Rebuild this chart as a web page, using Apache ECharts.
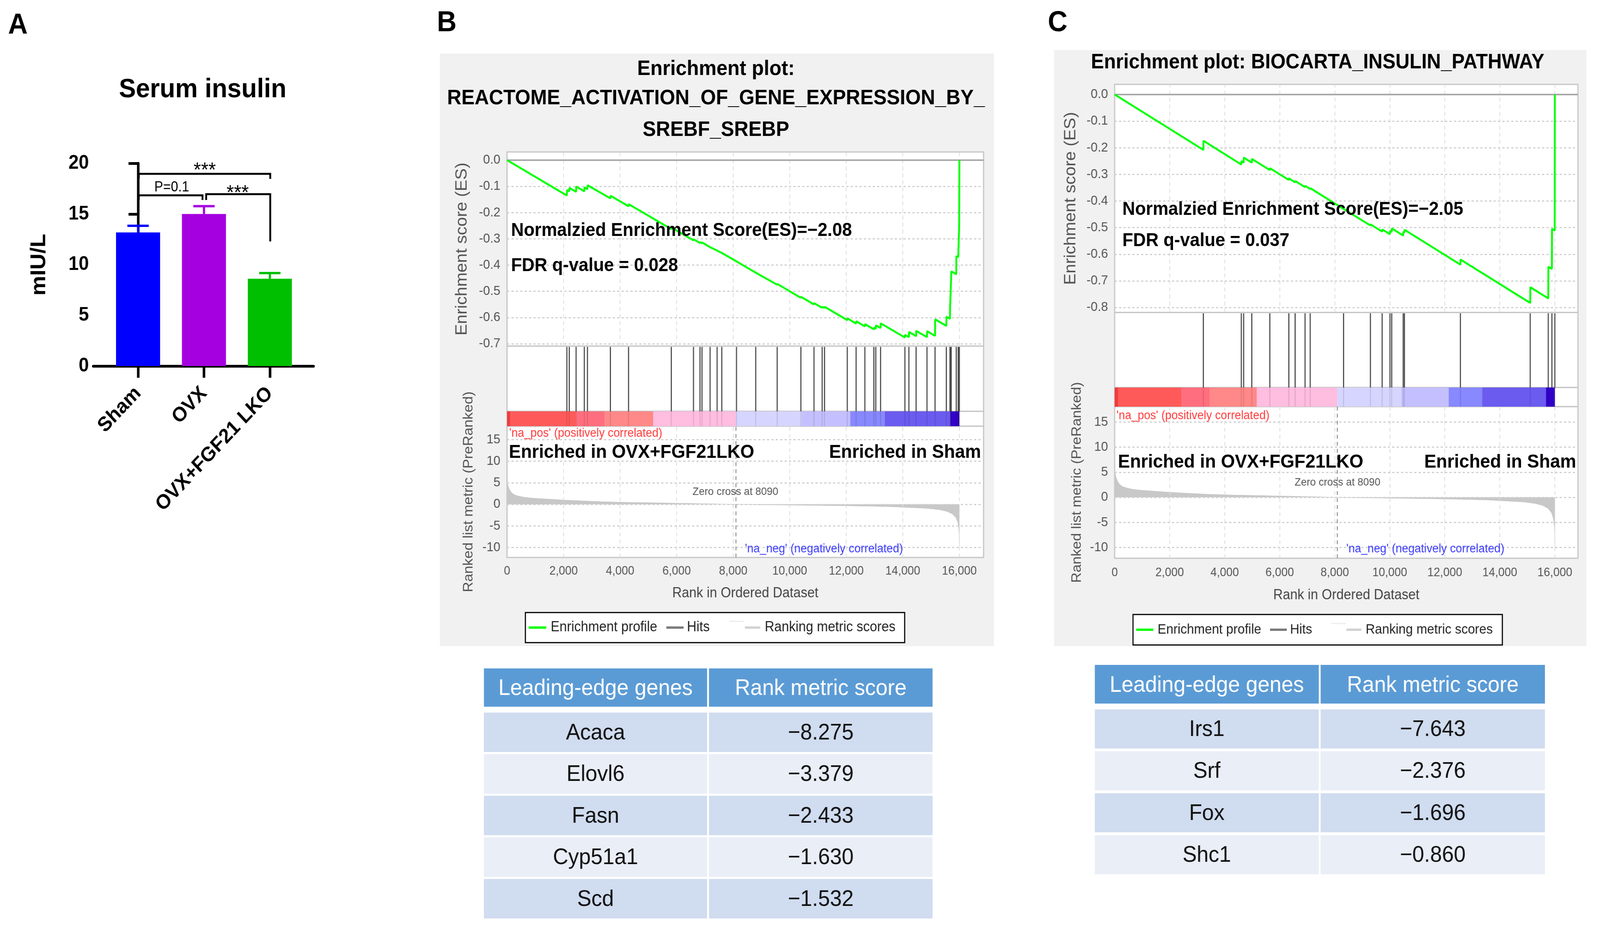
<!DOCTYPE html>
<html>
<head>
<meta charset="utf-8">
<script src="https://cdn.jsdelivr.net/npm/echarts@6/dist/echarts.min.js"></script>
<style>
html,body{margin:0;padding:0;background:#ffffff;overflow:hidden;}
#c{width:4358px;height:2396px;transform-origin:0 0;}
</style>
</head>
<body>
<div id="c"></div>
<script>
// ---------------- DATA ----------------
// Panel A: serum insulin (mIU/L)
const GROUPS = ['Sham', 'OVX', 'OVX+FGF21 LKO'];
const INSULIN_MEAN = [13.18, 15.0, 8.61];
const INSULIN_ERR_TOP = [13.83, 15.77, 9.17];
const INSULIN_TICKS = [0, 5, 10, 15, 20];
const SIG_PAIRS = [[0, 2], [0, 1], [1, 2]];
const SIG_LABELS = ['***', 'P=0.1', '***'];
const SIG_HEIGHT = [18.96, 16.84, 16.96];
const SIG_ENDS = [[18.46, 18.46], [16.38, 16.38], [16.38, 12.29]];

// GSEA common
const RANK_TICKS = [0, 2000, 4000, 6000, 8000, 10000, 12000, 14000, 16000];
const METRIC_TICKS = [15, 10, 5, 0, -5, -10];
const ES_TICKS_B = [0, -0.1, -0.2, -0.3, -0.4, -0.5, -0.6, -0.7];
const ES_TICKS_C = [0, -0.1, -0.2, -0.3, -0.4, -0.5, -0.6, -0.7, -0.8];
const ZERO_CROSS = 8090;
const COLORBAR_EDGES = [0, 120, 2430, 3460, 5170, 8090, 10420, 12140, 13360, 15680, 16000];
const RANKED_METRIC = [
  [0, 5.3], [20, 4.8], [50, 4.0], [90, 3.4], [150, 2.8], [220, 2.4], [300, 2.1], [450, 1.85],
  [600, 1.65], [800, 1.5], [1100, 1.35], [1500, 1.2], [2000, 1.0], [2600, 0.82], [3400, 0.6],
  [4300, 0.45], [5200, 0.36], [6200, 0.24], [7200, 0.12], [8090, 0], [9000, -0.1], [10000, -0.17],
  [11000, -0.25], [12000, -0.33], [13000, -0.45], [13600, -0.55], [14300, -0.75], [14900, -0.95],
  [15300, -1.25], [15550, -1.6], [15750, -2.2], [15880, -3.1], [15950, -4.3], [15985, -6.0],
  [16000, -8.3], [16005, -10.5]
];

// Panel B: REACTOME_ACTIVATION_OF_GENE_EXPRESSION_BY_SREBF_SREBP
const ES_B = [
  [0, 0], [2117, -0.135], [2121, -0.114], [2201, -0.119], [2205, -0.106], [2443, -0.121], [2447, -0.101],
  [2734, -0.119], [2738, -0.104], [2844, -0.111], [2848, -0.096], [3657, -0.146], [3661, -0.136],
  [4299, -0.176], [4303, -0.168], [5811, -0.263], [5815, -0.257], [6596, -0.306], [6600, -0.302],
  [6826, -0.316], [6830, -0.313], [6897, -0.317], [6901, -0.314], [7183, -0.332], [7187, -0.330],
  [7431, -0.345], [7435, -0.344], [7596, -0.354], [7600, -0.353], [8117, -0.386], [8121, -0.386],
  [8797, -0.429], [8801, -0.427], [9556, -0.475], [9560, -0.472], [10394, -0.525], [10398, -0.521],
  [10858, -0.550], [10862, -0.545], [11147, -0.563], [11151, -0.559], [11231, -0.564], [11235, -0.559],
  [12036, -0.610], [12040, -0.603], [12347, -0.623], [12351, -0.614], [12658, -0.634], [12662, -0.625],
  [12975, -0.645], [12979, -0.639], [13044, -0.643], [13048, -0.630], [13213, -0.640], [13217, -0.622],
  [14074, -0.676], [14078, -0.666], [14216, -0.675], [14220, -0.655], [14470, -0.671], [14474, -0.651],
  [14856, -0.675], [14860, -0.652], [15140, -0.670], [15144, -0.607], [15540, -0.632], [15544, -0.597],
  [15668, -0.605], [15672, -0.560], [15690, -0.561], [15694, -0.500], [15712, -0.501], [15716, -0.424],
  [15890, -0.435], [15894, -0.366], [15960, -0.370], [15964, -0.358], [15975, -0.359], [15979, -0.300],
  [15990, -0.301], [15994, -0.253], [15998, -0.253], [16002, 0]
];
const HITS_B = [2117, 2201, 2443, 2734, 2844, 3657, 4299, 5811, 6596, 6826, 6897, 7183, 7431, 7596, 8117,
  8797, 9556, 10394, 10858, 11147, 11231, 12036, 12347, 12658, 12975, 13044, 13213, 14074, 14216, 14470,
  14856, 15140, 15540, 15668, 15690, 15712, 15890, 15960, 15975, 15990, 16000];
const NES_B = -2.08, FDR_B = 0.028;
const GENES_B = ['Acaca', 'Elovl6', 'Fasn', 'Cyp51a1', 'Scd'];
const SCORES_B = [-8.275, -3.379, -2.433, -1.630, -1.532];

// Panel C: BIOCARTA_INSULIN_PATHWAY
const ES_C = [
  [0, 0], [3224, -0.208], [3228, -0.174], [4603, -0.263], [4607, -0.250], [4689, -0.256], [4693, -0.237],
  [4985, -0.256], [4989, -0.242], [5641, -0.284], [5645, -0.277], [6331, -0.321], [6335, -0.315],
  [6560, -0.330], [6564, -0.325], [6921, -0.348], [6925, -0.343], [7108, -0.355], [7112, -0.352],
  [8321, -0.430], [8325, -0.429], [9296, -0.492], [9300, -0.488], [9723, -0.515], [9727, -0.507],
  [10007, -0.525], [10011, -0.512], [10072, -0.516], [10076, -0.503], [10488, -0.530], [10492, -0.516],
  [10532, -0.519], [10536, -0.508], [12567, -0.639], [12571, -0.620], [15105, -0.783], [15109, -0.724],
  [15761, -0.766], [15765, -0.647], [15893, -0.655], [15897, -0.505], [15996, -0.511], [16000, 0]
];
const HITS_C = [3224, 4603, 4689, 4985, 5641, 6331, 6560, 6921, 7108, 8321, 9296, 9723, 10007, 10072,
  10488, 10532, 12567, 15105, 15761, 15893, 16000];
const NES_C = -2.05, FDR_C = 0.037;
const GENES_C = ['Irs1', 'Srf', 'Fox', 'Shc1'];
const SCORES_C = [-7.643, -2.376, -1.696, -0.860];

// ---------------- STYLE ----------------
const FF = '"Liberation Sans", Arial, Helvetica, sans-serif';
const BAR_COLORS = ['#0000FF', '#A500E0', '#00BF00'];
const COLORBAR_COLORS = ['#ee3c3c', '#ff5a5a', '#ff6e7e', '#ff8888', '#ffbde0', '#d5d5ff', '#c4c0ff', '#8888ff', '#6b5bef', '#3300cc'];
const BORDER = '#c4c4c4';
const minus = v => (v < 0 ? '\u2212' : '') + Math.abs(v);
const fmtScore = v => (v < 0 ? '\u2212' : '') + Math.abs(v).toFixed(3);

// fit the 4358x2396 design into the actual window
(function fit() {
  const el = document.getElementById('c');
  const sx = (window.innerWidth || 4358) / 4358, sy = (window.innerHeight || 2396) / 2396;
  el.style.transform = 'scale(' + sx + ',' + sy + ')';
})();

const grids = [], xAxes = [], yAxes = [], series = [], G = [];

function txt(x, y, s, size, o) {
  o = o || {};
  const al = o.align || 'left';
  return { type: 'text', x: x, y: y, z: o.z != null ? o.z : 50, silent: true,
    style: { text: s, fill: o.color || '#000', fontSize: size, fontWeight: o.bold ? 'bold' : 'normal',
      fontFamily: FF, align: al, textAlign: al, verticalAlign: 'middle', textVerticalAlign: 'middle' } };
}

// ---------------- PANEL A ----------------
grids.push({ left: 254, top: 418, width: 600, height: 519 });
xAxes.push({ gridIndex: 0, type: 'value', min: -0.68, max: 2.663,
  axisLine: { show: true, lineStyle: { color: '#000', width: 7 } },
  axisTick: { show: true, customValues: [0, 1, 2], length: 30, lineStyle: { color: '#000', width: 7 } },
  axisLabel: { customValues: [0, 1, 2], formatter: v => GROUPS[Math.round(v)], rotate: 45, margin: 62,
    fontSize: 52, fontWeight: 'bold', color: '#000', fontFamily: FF },
  splitLine: { show: false } });
yAxes.push({ gridIndex: 0, type: 'value', min: 0, max: 20, interval: 5,
  name: 'mIU/L', nameLocation: 'middle', nameGap: 118, nameRotate: 90,
  nameTextStyle: { fontSize: 57, fontWeight: 'bold', color: '#000', fontFamily: FF },
  axisLine: { show: true, lineStyle: { color: '#000', width: 7 } },
  axisTick: { show: true, length: 26, lineStyle: { color: '#000', width: 7 } },
  axisLabel: { fontSize: 50, fontWeight: 'bold', color: '#000', margin: 12, fontFamily: FF },
  splitLine: { show: false } });

series.push({ type: 'bar', xAxisIndex: 0, yAxisIndex: 0, barWidth: 120, z: 2,
  data: INSULIN_MEAN.map((m, i) => ({ value: [i, m], itemStyle: { color: BAR_COLORS[i] } })) });
series.push({ type: 'custom', xAxisIndex: 0, yAxisIndex: 0, z: 3,
  data: INSULIN_MEAN.map((m, i) => [i, m, INSULIN_ERR_TOP[i]]), encode: { x: 0, y: [1, 2] },
  renderItem: (p, api) => {
    const c = BAR_COLORS[p.dataIndex];
    const a = api.coord([api.value(0), api.value(1)]);
    const b = api.coord([api.value(0), api.value(2)]);
    return { type: 'group', children: [
      { type: 'line', shape: { x1: a[0], y1: a[1], x2: b[0], y2: b[1] }, style: { stroke: c, lineWidth: 6 } },
      { type: 'line', shape: { x1: b[0] - 29, y1: b[1], x2: b[0] + 29, y2: b[1] }, style: { stroke: c, lineWidth: 6 } }
    ] };
  } });
series.push({ type: 'custom', xAxisIndex: 0, yAxisIndex: 0, z: 4,
  data: SIG_PAIRS.map((pr, i) => [pr[0], pr[1], SIG_HEIGHT[i]]), encode: { x: [0, 1], y: 2 },
  renderItem: (p, api) => {
    const i = p.dataIndex;
    const pr = SIG_PAIRS[i], h = SIG_HEIGHT[i], e = SIG_ENDS[i];
    const a = api.coord([pr[0], h]), b = api.coord([pr[1], h]);
    const ea = api.coord([pr[0], e[0]]), eb = api.coord([pr[1], e[1]]);
    const dl = (i === 2) ? 6 : 2, dr = (i === 1) ? -4 : 1;
    const star = SIG_LABELS[i].indexOf('*') >= 0;
    const ty = star ? a[1] + (i === 0 ? 19 : 25) : a[1] - 20;
    return { type: 'group', children: [
      { type: 'polyline', shape: { points: [[ea[0] + dl, ea[1]], [a[0] + dl, a[1]], [b[0] + dr, b[1]], [eb[0] + dr, eb[1]]] },
        style: { stroke: '#000', lineWidth: 5, fill: null } },
      { type: 'text', x: (a[0] + b[0]) / 2 + 2, y: ty, z2: 5,
        style: { text: SIG_LABELS[i], fill: '#000', fontSize: star ? 52 : 36, fontFamily: FF,
          align: 'center', verticalAlign: star ? 'bottom' : 'middle' } }
    ] };
  } });

G.push(txt(22, 66, 'A', 74, { bold: true }));
G.push(txt(552, 230, 'Serum insulin', 69, { bold: true, align: 'center' }));

// ---------------- GSEA PANELS ----------------
function gseaPanel(L, es, hits, esTicks) {
  const gi = grids.length;
  const W = L.x1 - L.x0;
  const gstyle = { show: true, backgroundColor: '#ffffff', borderColor: BORDER, borderWidth: 3 };
  grids.push(Object.assign({ left: L.x0, top: L.esTop, width: W, height: L.hitsTop - L.esTop }, gstyle));
  grids.push(Object.assign({ left: L.x0, top: L.hitsTop, width: W, height: L.barTop - L.hitsTop }, gstyle));
  grids.push(Object.assign({ left: L.x0, top: L.barTop, width: W, height: L.rankTop - L.barTop }, gstyle));
  grids.push(Object.assign({ left: L.x0, top: L.rankTop, width: W, height: L.rankBot - L.rankTop }, gstyle));
  for (let k = 0; k < 4; k++) {
    const xa = { gridIndex: gi + k, type: 'value', min: 0, max: L.xMax, show: k === 3,
      axisLine: { show: false }, axisTick: { show: false }, splitLine: { show: false } };
    if (k === 3) {
      xa.axisLabel = { customValues: RANK_TICKS, formatter: v => v.toLocaleString('en-US'), fontSize: 31,
        color: '#555', margin: L.xLabelMargin, fontFamily: FF };
      xa.name = 'Rank in Ordered Dataset'; xa.nameLocation = 'middle'; xa.nameGap = L.xNameGap;
      xa.nameTextStyle = { fontSize: 36, color: '#444', fontFamily: FF };
    }
    xAxes.push(xa);
  }
  yAxes.push({ gridIndex: gi, type: 'value', min: L.esMin, max: L.esMax,
    axisLine: { show: false }, axisTick: { show: false }, splitLine: { show: false },
    axisLabel: { customValues: esTicks, formatter: v => (Math.abs(v) < 1e-9 ? '0.0' : v.toFixed(1)),
      fontSize: 34, color: '#555', margin: 18, fontFamily: FF },
    name: 'Enrichment score (ES)', nameLocation: 'middle', nameGap: L.esNameGap,
    nameTextStyle: { fontSize: 44, color: '#555', fontFamily: FF } });
  yAxes.push({ gridIndex: gi + 1, type: 'value', min: 0, max: 1, show: false });
  yAxes.push({ gridIndex: gi + 2, type: 'value', min: 0, max: 1, show: false });
  yAxes.push({ gridIndex: gi + 3, type: 'value', min: L.rMin, max: L.rMax,
    axisLine: { show: false }, axisTick: { show: false }, splitLine: { show: false },
    axisLabel: { customValues: METRIC_TICKS, fontSize: 34, color: '#555', margin: 18, fontFamily: FF },
    name: 'Ranked list metric (PreRanked)', nameLocation: 'middle', nameGap: L.rankNameGap,
    nameTextStyle: { fontSize: 37, color: '#555', fontFamily: FF } });

  const vLines = RANK_TICKS.slice(1).map(v => ({ xAxis: v, lineStyle: { type: [10, 8], color: '#dcdcdc', width: 2 } }));
  const esLines = esTicks.map(v => (Math.abs(v) < 1e-9)
    ? { yAxis: 0, lineStyle: { type: 'solid', color: '#a8a8a8', width: 4 } }
    : { yAxis: v, lineStyle: { type: [6, 6], color: '#cfcfcf', width: 3 } });
  const rLines = METRIC_TICKS.map(v => ({ yAxis: v, lineStyle: { type: [6, 6], color: '#cfcfcf', width: 3 } }));
  const mk = data => ({ silent: true, symbol: 'none', label: { show: false }, animation: false, data: data });

  series.push({ type: 'line', xAxisIndex: gi, yAxisIndex: gi, data: [[0, 0]], showSymbol: false, z: 1,
    lineStyle: { opacity: 0 }, markLine: mk(vLines.concat(esLines)) });
  series.push({ type: 'line', name: 'Enrichment profile', xAxisIndex: gi, yAxisIndex: gi, data: es,
    showSymbol: false, z: 5, lineStyle: { color: '#00ff00', width: 5 }, itemStyle: { color: '#00ff00' } });
  series.push({ type: 'custom', name: 'Hits', xAxisIndex: gi + 1, yAxisIndex: gi + 1, z: 4,
    data: hits.map(r => [r, 0.5]), encode: { x: 0, y: 1 },
    renderItem: (p, api) => {
      const t = api.coord([api.value(0), 1]), b = api.coord([api.value(0), 0]);
      return { type: 'line', shape: { x1: t[0], y1: t[1] + 2, x2: b[0], y2: b[1] }, style: { stroke: '#4a4a4a', lineWidth: 3 } };
    } });
  series.push({ type: 'custom', xAxisIndex: gi + 2, yAxisIndex: gi + 2, z: 3,
    data: COLORBAR_EDGES.slice(0, -1).map((s, i) => [s, COLORBAR_EDGES[i + 1]]), encode: { x: [0, 1] },
    renderItem: (p, api) => {
      const a = api.coord([api.value(0), 1]), b = api.coord([api.value(1), 0]);
      return { type: 'rect', shape: { x: a[0], y: a[1], width: b[0] - a[0], height: b[1] - a[1] },
        style: { fill: COLORBAR_COLORS[p.dataIndex] } };
    } });
  series.push({ type: 'custom', xAxisIndex: gi + 2, yAxisIndex: gi + 2, z: 4,
    data: hits.map(r => [r, 0.5]), encode: { x: 0, y: 1 },
    renderItem: (p, api) => {
      const t = api.coord([api.value(0), 1]), b = api.coord([api.value(0), 0]);
      return { type: 'line', shape: { x1: t[0], y1: t[1], x2: b[0], y2: b[1] }, style: { stroke: 'rgba(0,0,0,0.10)', lineWidth: 3 } };
    } });
  series.push({ type: 'line', xAxisIndex: gi + 3, yAxisIndex: gi + 3, data: [[0, 0]], showSymbol: false, z: 1,
    lineStyle: { opacity: 0 },
    markLine: mk(vLines.concat(rLines).concat([{ xAxis: ZERO_CROSS, lineStyle: { type: [10, 8], color: '#a0a0a0', width: 3 } }])) });
  series.push({ type: 'line', name: 'Ranking metric scores', xAxisIndex: gi + 3, yAxisIndex: gi + 3, data: RANKED_METRIC,
    showSymbol: false, z: 3, lineStyle: { color: '#c4c4c4', width: 1 }, itemStyle: { color: '#c4c4c4' },
    areaStyle: { color: '#c8c8c8', opacity: 1 } });
}

const LB = { x0: 1381, x1: 2679, esTop: 389, hitsTop: 886, barTop: 1053, rankTop: 1091, rankBot: 1427,
  xMax: 16857, esMin: -0.709, esMax: 0.031, rMin: -12.3, rMax: 18.1, esNameGap: 100, rankNameGap: 86, xNameGap: 74, xLabelMargin: 20 };
const LC = { x0: 3036, x1: 4298, esTop: 216, hitsTop: 800, barTop: 992, rankTop: 1041, rankBot: 1429,
  xMax: 16841, esMin: -0.819, esMax: 0.038, rMin: -12.15, rMax: 18.07, esNameGap: 97, rankNameGap: 84, xNameGap: 77, xLabelMargin: 22 };

gseaPanel(LB, ES_B, HITS_B, ES_TICKS_B);
gseaPanel(LC, ES_C, HITS_C, ES_TICKS_C);

G.push({ type: 'rect', z: -100, silent: true, shape: { x: 1198, y: 137, width: 1509, height: 1517 }, style: { fill: '#f1f1f1' } });
G.push({ type: 'rect', z: -100, silent: true, shape: { x: 2871, y: 128, width: 1450, height: 1526 }, style: { fill: '#f1f1f1' } });

G.push(txt(1190, 60, 'B', 74, { bold: true }));
G.push(txt(2854, 60, 'C', 74, { bold: true }));
G.push(txt(1950, 177, 'Enrichment plot:', 54, { bold: true, align: 'center' }));
G.push(txt(1950, 252, 'REACTOME_ACTIVATION_OF_GENE_EXPRESSION_BY_', 54, { bold: true, align: 'center' }));
G.push(txt(1950, 333, 'SREBF_SREBP', 54, { bold: true, align: 'center' }));
G.push(txt(3589, 160, 'Enrichment plot: BIOCARTA_INSULIN_PATHWAY', 53, { bold: true, align: 'center' }));

function annotations(nes, fdr, o) {
  G.push(txt(o.ax, o.nesY, 'Normalzied Enrichment Score(ES)=' + minus(nes), 48, { bold: true }));
  G.push(txt(o.ax, o.fdrY, 'FDR q-value = ' + fdr.toFixed(3), 48, { bold: true }));
  G.push(txt(o.posX, o.posY, "'na_pos' (positively correlated)", 31, { color: '#ff3b3b' }));
  G.push(txt(o.enrX1, o.enrY, 'Enriched in OVX+FGF21LKO', 49, { bold: true }));
  G.push(txt(o.enrX2, o.enrY, 'Enriched in Sham', 49, { bold: true, align: 'right' }));
  G.push(txt(o.zcX, o.zcY, 'Zero cross at ' + ZERO_CROSS, 28, { color: '#555', align: 'center' }));
  G.push(txt(o.negX, o.negY, "'na_neg' (negatively correlated)", 31, { color: '#3b3bff' }));
}
annotations(NES_B, FDR_B, { ax: 1392, nesY: 591, fdrY: 681, posX: 1387, posY: 1109, enrX1: 1386, enrX2: 2672,
  enrY: 1158, zcX: 2003, zcY: 1259, negX: 2029, negY: 1405 });
annotations(NES_C, FDR_C, { ax: 3057, nesY: 537, fdrY: 617, posX: 3041, posY: 1064, enrX1: 3045, enrX2: 4293,
  enrY: 1183, zcX: 3643, zcY: 1235, negX: 3667, negY: 1405 });

function legendBox(x, y, w, h, s, fs) {
  const cy = y + h / 2;
  G.push({ type: 'rect', z: 40, silent: true, shape: { x: x, y: y, width: w, height: h }, style: { fill: '#fff', stroke: '#000', lineWidth: 3 } });
  const ln = (a, b, c, yy, lw) => G.push({ type: 'line', z: 41, silent: true, shape: { x1: x + a * s, y1: yy, x2: x + b * s, y2: yy }, style: { stroke: c, lineWidth: lw } });
  ln(9, 57, '#00ff00', cy, 6);
  G.push(txt(x + 69 * s, cy, 'Enrichment profile', fs, { color: '#222', z: 42 }));
  ln(384, 431, '#7a7a7a', cy, 6);
  G.push(txt(x + 440 * s, cy, 'Hits', fs, { color: '#222', z: 42 }));
  ln(556, 596, '#ececec', cy - 16, 3);
  ln(598, 640, '#d2d2d2', cy, 6);
  G.push(txt(x + 652 * s, cy, 'Ranking metric scores', fs, { color: '#222', z: 42 }));
}
legendBox(1431, 1568, 1033, 77, 1, 36);
legendBox(3086, 1573, 1006, 78, 0.972, 35);

function table(x, c1, gap, c2, hy, hh, ry, rp, rh, genes, scores) {
  G.push({ type: 'rect', z: 30, silent: true, shape: { x: x, y: hy, width: c1, height: hh }, style: { fill: '#5b9bd5' } });
  G.push({ type: 'rect', z: 30, silent: true, shape: { x: x + c1 + gap, y: hy, width: c2, height: hh }, style: { fill: '#5b9bd5' } });
  G.push(txt(x + c1 / 2, hy + hh / 2 + 3, 'Leading-edge genes', 58, { color: '#fff', align: 'center' }));
  G.push(txt(x + c1 + gap + c2 / 2, hy + hh / 2 + 3, 'Rank metric score', 58, { color: '#fff', align: 'center' }));
  genes.forEach((g, i) => {
    const yy = ry + i * rp;
    const fill = i % 2 === 0 ? '#d0dcef' : '#e9eef7';
    G.push({ type: 'rect', z: 30, silent: true, shape: { x: x, y: yy, width: c1, height: rh }, style: { fill: fill } });
    G.push({ type: 'rect', z: 30, silent: true, shape: { x: x + c1 + gap, y: yy, width: c2, height: rh }, style: { fill: fill } });
    G.push(txt(x + c1 / 2, yy + rh / 2 + 2, g, 58, { color: '#111', align: 'center' }));
    G.push(txt(x + c1 + gap + c2 / 2, yy + rh / 2 + 2, fmtScore(scores[i]), 58, { color: '#111', align: 'center' }));
  });
}
table(1318, 608, 5, 609, 1711, 98, 1824, 106.5, 101, GENES_B, SCORES_B);
table(2982, 610, 5, 611, 1702, 99, 1816, 107.3, 100, GENES_C, SCORES_C);

const chart = echarts.init(document.getElementById('c'), null, { renderer: 'canvas', width: 4358, height: 2396 });
chart.setOption({
  animation: false,
  backgroundColor: '#ffffff',
  textStyle: { fontFamily: FF },
  grid: grids,
  xAxis: xAxes,
  yAxis: yAxes,
  series: series,
  graphic: { elements: G }
});
</script>
</body>
</html>
